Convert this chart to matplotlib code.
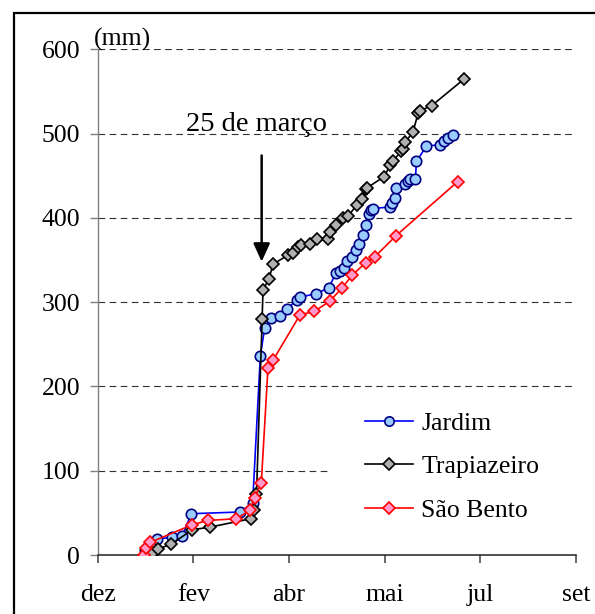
import matplotlib
matplotlib.use("Agg")
import matplotlib.pyplot as plt
from matplotlib.patches import Rectangle

# x in axis-tick units (0 = "dez", 1 = "fev", ... 5 = "set")
tick_labels = ["dez", "fev", "abr", "mai", "jul", "set"]
tick_pos = [0, 1, 2, 3, 4, 5]

jardim_x = [0.49, 0.62, 0.78, 0.88, 0.98, 1.49, 1.62, 1.70, 1.745, 1.807, 1.904, 1.983,
            2.080, 2.115, 2.283, 2.415, 2.494, 2.529, 2.573, 2.609, 2.661, 2.697, 2.732, 2.776,
            2.802, 2.838, 2.855, 2.873, 3.058, 3.075, 3.111, 3.120, 3.208, 3.243, 3.269, 3.322,
            3.331, 3.437, 3.578, 3.622, 3.657, 3.719]
jardim_y = [6, 19, 21, 22, 49, 51, 62, 236, 269, 281, 283, 292,
            303, 306, 310, 317, 335, 337, 340, 349, 353, 362, 369, 380,
            392, 405, 409, 411, 413, 418, 423, 436, 440, 444, 446, 446,
            467, 485, 487, 491, 495, 498]

trap_x = [0.58, 0.63, 0.77, 0.99, 1.17, 1.60, 1.63, 1.66, 1.719, 1.728, 1.789, 1.833,
          1.992, 2.045, 2.098, 2.124, 2.221, 2.291, 2.406, 2.424, 2.494, 2.565, 2.617, 2.706,
          2.758, 2.802, 2.820, 2.996, 3.058, 3.084, 3.172, 3.190, 3.217, 3.296, 3.349, 3.366,
          3.490, 3.833]
trap_y = [2, 7, 13, 30, 33, 43, 53, 72, 280, 315, 327, 345,
          356, 358, 365, 368, 369, 375, 375, 383, 391, 400, 402, 415,
          422, 434, 436, 449, 463, 467, 479, 482, 490, 502, 524, 527,
          533, 565]

sb_x = [0.48, 0.51, 0.55, 0.99, 1.15, 1.45, 1.59, 1.64, 1.71, 1.780, 1.833, 2.115,
        2.265, 2.424, 2.556, 2.661, 2.802, 2.899, 3.120, 3.763]
sb_y = [0, 8, 15, 36, 41, 43, 53, 68, 85, 222, 231, 285,
        289, 301, 317, 332, 347, 354, 379, 443]

y_ticks = [0, 100, 200, 300, 400, 500, 600]

serif = ["Liberation Serif", "DejaVu Serif"]
plt.rcParams["font.family"] = serif

W, H = 595, 614
fig = plt.figure(figsize=(W / 100, H / 100), dpi=100)
x0, x1, y0, y1 = 97.7, 576.0, 555.0, 49.3
ax = fig.add_axes([x0 / W, 1 - y0 / H, (x1 - x0) / W, (y0 - y1) / H])

ax.plot(jardim_x, jardim_y, color="#0000FF", lw=1.2, marker="o", ms=7.5,
        mfc="#99CCFF", mec="#000080", mew=1.2, label="Jardim", zorder=3)
ax.plot(trap_x, trap_y, color="black", lw=1.2, marker="D", ms=6.3,
        mfc="#B0B0B0", mec="black", mew=1.2, label="Trapiazeiro", zorder=4)
ax.plot(sb_x, sb_y, color="#FF0000", lw=1.2, marker="D", ms=6.3,
        mfc="#FF99CC", mec="#FF0000", mew=1.2, label="São Bento", zorder=5)

ax.set_xlim(0, 5)
ax.set_ylim(0, 600)
ax.set_xticks(tick_pos)
ax.set_xticklabels(tick_labels)
ax.set_yticks(y_ticks)
for v in y_ticks[1:]:
    ax.axhline(v, color="#303030", lw=0.8, ls=(0, (6, 4)), zorder=0)

for s in ["top", "right"]:
    ax.spines[s].set_visible(False)
ax.spines["left"].set_color("#808080")
ax.spines["bottom"].set_color("#202020")
ax.spines["left"].set_linewidth(1.0)
ax.spines["bottom"].set_linewidth(1.1)
ax.tick_params(axis="y", direction="out", length=5.5, width=1, color="#808080",
               labelsize=18.5, pad=7)
ax.tick_params(axis="x", direction="out", length=6, width=1.1, color="#404040",
               labelsize=18.5, pad=15)

ax.text(-0.04, 605, "(mm)", fontsize=18.5, ha="left", va="baseline")
ax.text(0.92, 503, "25 de março", fontsize=20.5, ha="left", va="baseline")
ax.annotate("", xy=(1.714, 348), xytext=(1.714, 474),
            arrowprops=dict(arrowstyle="-|>,head_length=1.1,head_width=0.5",
                            color="black", lw=1.8, shrinkA=0, shrinkB=0))

# white legend background (no frame) hiding the grid behind the legend
bg = Rectangle(((330 - x0) / (x1 - x0), (y0 - 545) / (y0 - y1)),
               (x1 - 330) / (x1 - x0), (545 - 396) / (y0 - y1),
               transform=ax.transAxes, facecolor="white", edgecolor="none", zorder=1)
ax.add_patch(bg)

leg = ax.legend(loc="center left",
                bbox_to_anchor=((342 - x0) / (x1 - x0), (y0 - 467) / (y0 - y1)),
                fontsize=18.5, frameon=False,
                handlelength=1.88, handletextpad=0.31, labelspacing=0.8,
                markerscale=0.9, borderpad=0.4)

fig.patches.append(Rectangle((14 / W, -0.2), 1.5, 1.2 - 12.7 / H,
                             transform=fig.transFigure, fill=False,
                             edgecolor="black", lw=1.6))

fig.savefig("out.png", dpi=100)
